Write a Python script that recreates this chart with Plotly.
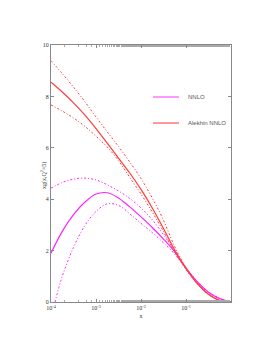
import numpy as np
import plotly.graph_objects as go

# log10(x) grid
logx = [-4.0, -3.75, -3.5, -3.25, -3.0, -2.75, -2.5, -2.25, -2.0, -1.75, -1.5, -1.25, -1.0, -0.75, -0.5, -0.25, 0.0]

nnlo_c  = [1.90, 2.75, 3.40, 3.88, 4.20, 4.25, 4.05, 3.70, 3.31, 2.90, 2.45, 1.95, 1.32, 0.79, 0.38, 0.13, 0.0]
nnlo_up = [4.43, 4.65, 4.78, 4.82, 4.75, 4.56, 4.32, 4.03, 3.66, 3.20, 2.62, 1.99, 1.34, 0.80, 0.39, 0.14, 0.0]
logx_lo = [-3.91, -3.75, -3.5, -3.25, -3.0, -2.75, -2.5, -2.25, -2.0, -1.75, -1.5, -1.25, -1.0, -0.75, -0.5, -0.25, 0.0]
nnlo_lo = [0.00, 1.00, 2.12, 2.97, 3.52, 3.82, 3.76, 3.43, 3.06, 2.70, 2.30, 1.86, 1.30, 0.78, 0.37, 0.13, 0.0]

alek_c  = [8.55, 8.17, 7.75, 7.28, 6.75, 6.18, 5.60, 5.02, 4.38, 3.66, 2.86, 2.02, 1.30, 0.72, 0.30, 0.06, 0.0]
alek_up = [9.39, 8.89, 8.36, 7.80, 7.20, 6.62, 6.05, 5.45, 4.80, 4.05, 3.18, 2.15, 1.34, 0.74, 0.31, 0.06, 0.0]
alek_lo = [7.67, 7.43, 7.16, 6.84, 6.45, 6.03, 5.50, 4.85, 4.20, 3.50, 2.74, 1.93, 1.27, 0.71, 0.29, 0.05, 0.0]

xticks = [1e-4, 1e-3, 1e-2, 1e-1]
xticktext = ["10<sup>-4</sup>", "10<sup>-3</sup>", "10<sup>-2</sup>", "10<sup>-1</sup>"]
yticks = [0, 2, 4, 6, 8, 10]

MAG = "#ff22ff"
RED = "#ff3b3b"
dashdot = "2px,2px,1px,2px"

fig = go.Figure()
def tr(lx, y, color, dash, width):
    fig.add_trace(go.Scatter(x=[10**v for v in lx], y=y, mode="lines",
                             line=dict(color=color, dash=dash, width=width, shape="spline", smoothing=1.0),
                             showlegend=False, hoverinfo="skip"))

tr(logx, nnlo_up, MAG, dashdot, 1)
tr(logx_lo, nnlo_lo, MAG, dashdot, 1)
tr(logx, nnlo_c, MAG, "solid", 1.2)
tr(logx, alek_up, RED, dashdot, 1)
tr(logx, alek_lo, RED, dashdot, 1)
tr(logx, alek_c, RED, "solid", 1.2)

axis_common = dict(showline=True, linecolor="#888888", linewidth=1, mirror="allticks",
                   ticks="inside", tickcolor="#888888", ticklen=3, showgrid=False, zeroline=False,
                   tickfont=dict(size=6, color="#333333", family="Liberation Serif"))

fig.update_xaxes(type="log", range=[-4, 0], tickvals=xticks, ticktext=xticktext,
                 minor=dict(ticks="inside", ticklen=2, tickcolor="#aaaaaa", showgrid=False),
                 title=dict(text="x", font=dict(size=6, family="Liberation Serif", color="#333"), standoff=3),
                 **axis_common)
fig.update_yaxes(range=[0, 10], tickvals=yticks, **axis_common)

# legend and y title drawn in paper coordinates (plot area: x 51..231, y 45..302 on screen)
def px2paper(px, py):
    return (px - 51) / 180.0, (302 - py) / 257.0

yx, yy = px2paper(43, 176)
fig.add_annotation(xref="paper", yref="paper", x=yx, y=yy, text="xg(x,Q<sup>2</sup>=5)", showarrow=False,
                   textangle=-90, xanchor="center", yanchor="middle",
                   font=dict(size=6, family="Liberation Serif", color="#333333"))

for (py, col, label, w) in [(97, "#ff99ff", "NNLO", 2), (123, "#ff5555", "Alekhin NNLO", 1.2)]:
    x0, y0 = px2paper(153, py)
    x1, _ = px2paper(179, py)
    fig.add_shape(type="line", xref="paper", yref="paper", x0=x0, x1=x1, y0=y0, y1=y0,
                  line=dict(color=col, width=w))
    tx, _ = px2paper(186, py)
    fig.add_annotation(xref="paper", yref="paper", x=tx, y=y0, text=label, showarrow=False,
                       xanchor="left", yanchor="middle", font=dict(size=6, color="#555555", family="Liberation Sans"))

fig.update_layout(width=269, height=350, margin=dict(l=43, r=46, t=37, b=56),
                  paper_bgcolor="white", plot_bgcolor="white")
fig.write_html("out.html")
